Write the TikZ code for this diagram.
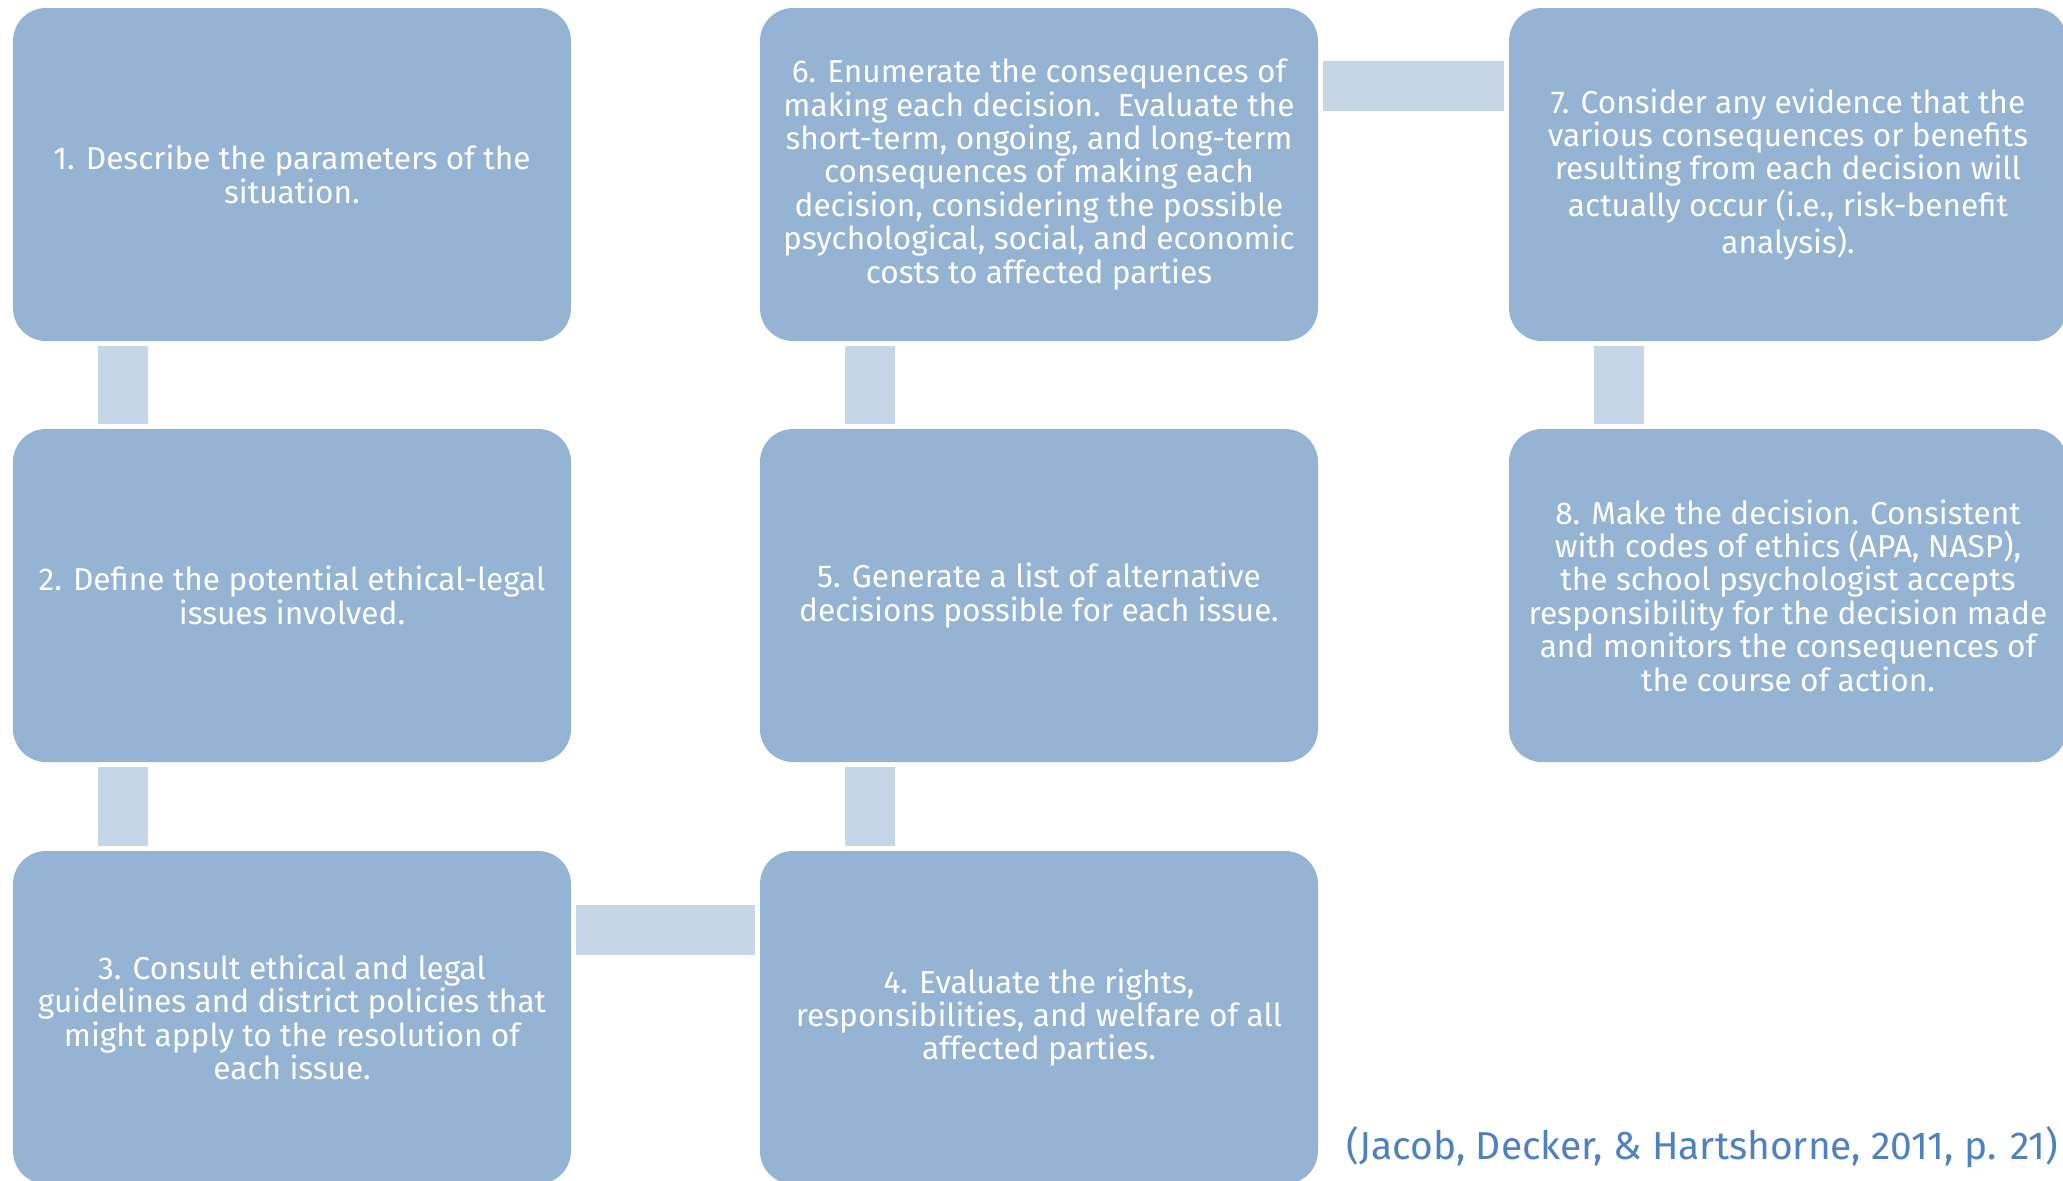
\documentclass[tikz,border=0pt]{standalone}
\usepackage{fontspec}
\setmainfont{Fira Sans}
\definecolor{boxblue}{HTML}{95B3D3}
\definecolor{linkblue}{HTML}{C7D6E6}
\definecolor{citeblue}{HTML}{4F81BD}
\begin{document}
\begin{tikzpicture}[
    box/.style={rectangle, fill=boxblue, rounded corners=0.33cm, minimum width=5.58cm, minimum height=3.33cm, align=center, text=white, font=\fontsize{9}{9.5}\selectfont},
    link/.style={draw=linkblue, line width=0.5cm}
]
\clip (0,0) rectangle (20.63,-11.80);

% Left column
\node[box] (describe) at (2.92,-1.745) {1. Describe the parameters of the\\situation.};
\node[box] (define) at (2.92,-5.955) {2. Define the potential ethical-legal\\issues involved.};
\node[box] (consult) at (2.92,-10.175) {3. Consult ethical and legal\\guidelines and district policies that\\might apply to the resolution of\\each issue.};

% Middle column
\node[box] (evaluate) at (10.39,-10.175) {4. Evaluate the rights,\\responsibilities, and welfare of all\\affected parties.};
\node[box] (generate) at (10.39,-5.955) {5. Generate a list of alternative\\decisions possible for each issue.};
\node[box] (enumerate) at (10.39,-1.745) {6. Enumerate the consequences of\\making each decision.\ \ Evaluate the\\short-term, ongoing, and long-term\\consequences of making each\\decision, considering the possible\\psychological, social, and economic\\costs to affected parties};

% Right column
\node[box] (evidence) at (17.88,-1.745) {7. Consider any evidence that the\\various consequences or benefits\\resulting from each decision will\\actually occur (i.e., risk-benefit\\analysis).};
\node[box] (decide) at (17.88,-5.955) {8. Make the decision. Consistent\\with codes of ethics (APA, NASP),\\the school psychologist accepts\\responsibility for the decision made\\and monitors the consequences of\\the course of action.};

% Source
\node[anchor=east, inner sep=0pt, text=citeblue, font=\fontsize{11.1}{13}\selectfont] (cite) at (20.59,-11.47) {(Jacob, Decker, \& Hartshorne, 2011, p. 21)};

% Links - down the left column
\draw[link] ([xshift=1.11cm,yshift=-0.04cm]describe.south west) -- ([xshift=1.11cm,yshift=0.04cm]define.north west);
\draw[link] ([xshift=1.11cm,yshift=-0.04cm]define.south west) -- ([xshift=1.11cm,yshift=0.04cm]consult.north west);

% Links - across to the middle column and up
\draw[link] ([xshift=0.04cm,yshift=-0.80cm]consult.north east) -- ([xshift=-0.04cm,yshift=-0.80cm]evaluate.north west);
\draw[link] ([xshift=1.11cm,yshift=0.04cm]evaluate.north west) -- ([xshift=1.11cm,yshift=-0.04cm]generate.south west);
\draw[link] ([xshift=1.11cm,yshift=0.04cm]generate.north west) -- ([xshift=1.11cm,yshift=-0.04cm]enumerate.south west);

% Links - across to the right column and down
\draw[link] ([xshift=0.04cm,yshift=-0.79cm]enumerate.north east) -- ([xshift=-0.04cm,yshift=-0.79cm]evidence.north west);
\draw[link] ([xshift=1.11cm,yshift=-0.04cm]evidence.south west) -- ([xshift=1.11cm,yshift=0.04cm]decide.north west);

\end{tikzpicture}
\end{document}
